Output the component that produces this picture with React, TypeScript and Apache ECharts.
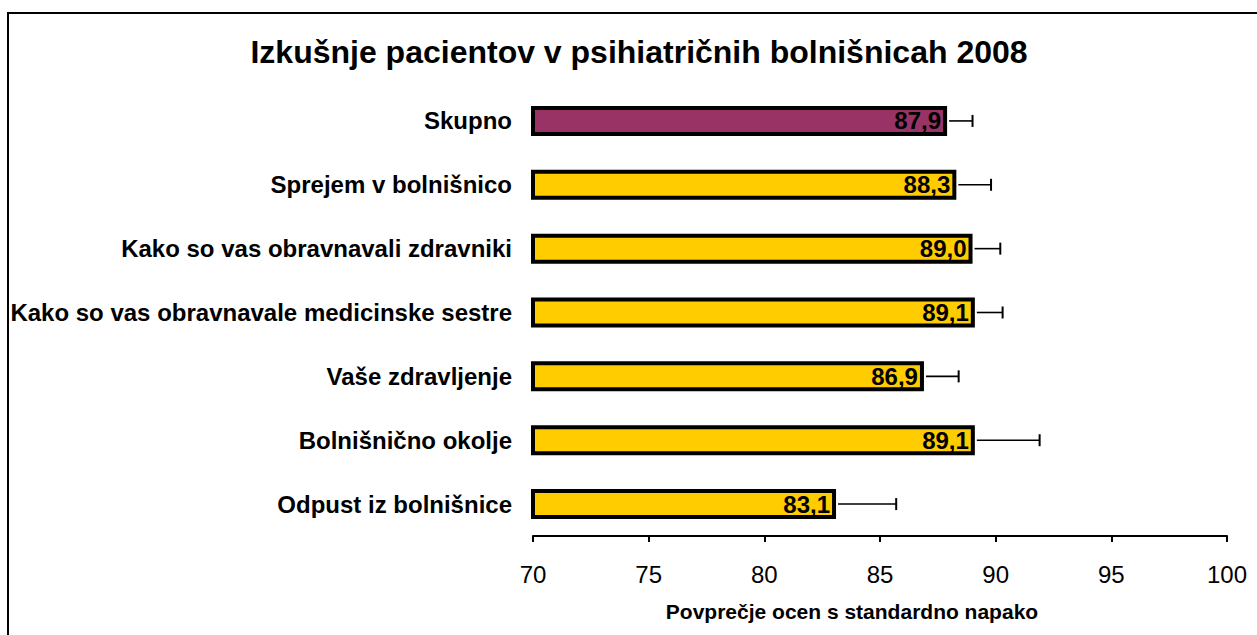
import React, { useEffect, useRef } from "react";
import * as echarts from "echarts";

const titleText = "Izkušnje pacientov v psihiatričnih bolnišnicah 2008";
const axisName = "Povprečje ocen s standardno napako";
const categories = [
  "Skupno",
  "Sprejem v bolnišnico",
  "Kako so vas obravnavali zdravniki",
  "Kako so vas obravnavale medicinske sestre",
  "Vaše zdravljenje",
  "Bolnišnično okolje",
  "Odpust iz bolnišnice",
];
const values = [87.9, 88.3, 89.0, 89.1, 86.9, 89.1, 83.1];
const errors = [1.1, 1.5, 1.2, 1.2, 1.5, 2.8, 2.6];
const barColors = ["#993366", "#FFCC00", "#FFCC00", "#FFCC00", "#FFCC00", "#FFCC00", "#FFCC00"];
const xTicks = { min: 70, max: 100, interval: 5 };

const FONT = "'Liberation Sans', Arial, sans-serif";

export default function App() {
  const ref = useRef<HTMLDivElement>(null);
  useEffect(() => {
    if (!ref.current) return;
    const chart = echarts.init(ref.current, null, { renderer: "svg" });
    chart.setOption({
      animation: false,
      backgroundColor: "#ffffff",
      title: {
        text: titleText,
        left: 639,
        top: 36,
        textAlign: "center",
        padding: 0,
        textStyle: { fontFamily: FONT, fontSize: 32, fontWeight: "bold", color: "#000" },
      },
      grid: { left: 533, right: 30, top: 89, bottom: 99, containLabel: false },
      xAxis: {
        type: "value",
        min: xTicks.min,
        max: xTicks.max,
        interval: xTicks.interval,
        axisLine: { show: true, lineStyle: { color: "#000", width: 2 } },
        axisTick: { show: true, length: 6, lineStyle: { color: "#000", width: 2 } },
        splitLine: { show: false },
        axisLabel: { margin: 26, fontFamily: FONT, fontSize: 24, color: "#000" },
      },
      yAxis: {
        type: "category",
        data: categories,
        inverse: true,
        axisLine: { show: false },
        axisTick: { show: false },
        splitLine: { show: false },
        axisLabel: { margin: 21, fontFamily: FONT, fontSize: 24, fontWeight: "bold", color: "#000" },
      },
      graphic: [
        {
          type: "rect",
          shape: { x: 8, y: 13, width: 1300, height: 700 },
          style: { fill: "none", stroke: "#000", lineWidth: 2 },
          silent: true,
        },
        {
          type: "text",
          x: 852,
          y: 611,
          style: {
            text: axisName,
            fontFamily: FONT,
            fontSize: 21,
            fontWeight: "bold",
            fill: "#000",
            align: "center",
            verticalAlign: "middle",
          },
        },
      ],
      series: [
        {
          type: "bar",
          barWidth: 30,
          data: values.map((v, i) => ({ value: v, itemStyle: { color: barColors[i] } })),
          itemStyle: { borderColor: "#000", borderWidth: 4 },
          label: {
            show: true,
            position: "insideRight",
            distance: 6,
            fontFamily: FONT,
            fontSize: 24,
            fontWeight: "bold",
            color: "#000",
            formatter: (p: any) => Number(p.value).toFixed(1).replace(".", ","),
          },
          z: 2,
        },
        {
          type: "custom",
          z: 3,
          encode: { x: 0, y: 1 },
          data: values.map((v, i) => [v, i, errors[i]]),
          renderItem: (params: any, api: any) => {
            const v = api.value(0);
            const idx = api.value(1);
            const e = api.value(2);
            const s = api.coord([v, idx]);
            const t = api.coord([v + e, idx]);
            return {
              type: "group",
              children: [
                {
                  type: "line",
                  shape: { x1: s[0] + 2, y1: s[1], x2: t[0], y2: t[1] },
                  style: { stroke: "#000", lineWidth: 1.6 },
                },
                {
                  type: "line",
                  shape: { x1: t[0], y1: t[1] - 6, x2: t[0], y2: t[1] + 6 },
                  style: { stroke: "#000", lineWidth: 2 },
                },
              ],
            };
          },
        },
      ],
    });
    return () => chart.dispose();
  }, []);
  return (
    <div
      ref={ref}
      style={{ position: "absolute", left: 0, top: 0, width: 1257, height: 635 }}
    />
  );
}
